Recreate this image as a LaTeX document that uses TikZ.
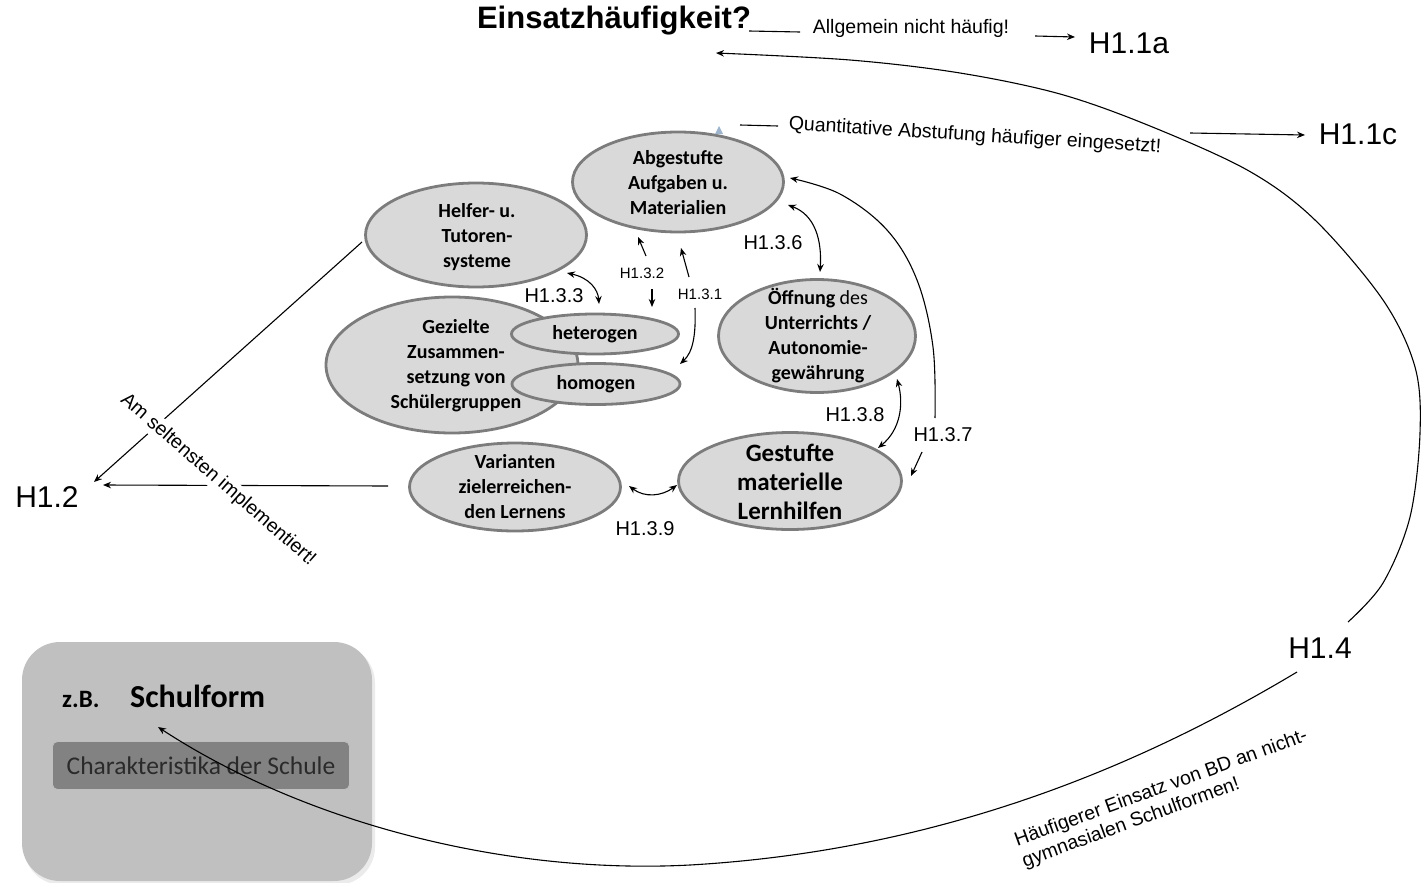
\documentclass[tikz,border=0pt]{standalone}
\usepackage{fontspec}
\setmainfont{Carlito}
\newfontfamily\arialfont{Liberation Sans}
\usetikzlibrary{shapes.geometric,arrows.meta}
\definecolor{bubfill}{HTML}{D9D9D9}
\definecolor{bubline}{HTML}{7C7C7C}
\definecolor{boxfill}{HTML}{C0C0C0}
\definecolor{innerfill}{HTML}{828282}
\definecolor{innertext}{HTML}{2A2A2A}
\definecolor{tipblue}{HTML}{9DB4CC}

\begin{document}
\begin{tikzpicture}[x=1pt,y=-1pt,
  bub/.style={ellipse, draw=bubline, line width=2.8pt, fill=bubfill, inner sep=0pt},
  bubtext/.style={align=center, inner sep=0pt, font=\bfseries\fontsize{20}{25}\selectfont},
  conn/.style={line width=1.1pt},
  tip/.style={conn, -{Stealth[length=8pt,width=6.5pt]}},
  twotip/.style={conn, {Stealth[length=8pt,width=6.5pt]}-{Stealth[length=8pt,width=6.5pt]}},
  hlab/.style={font=\arialfont\fontsize{20}{24}\selectfont, inner sep=1pt},
  hsmall/.style={font=\arialfont\fontsize{15}{18}\selectfont, inner sep=1pt},
  hbig/.style={font=\arialfont\fontsize{30}{36}\selectfont, inner sep=1pt},
  remark/.style={font=\arialfont\fontsize{19.5}{22}\selectfont, inner sep=1pt},
]
\useasboundingbox (0,0) rectangle (1421,883);

% ---------- school-type box ----------
\fill[black, opacity=0.08, rounded corners=38pt] (24,645) rectangle (375,885);
\node[fill=boxfill, rounded corners=38pt, minimum width=350pt, minimum height=239pt, inner sep=0pt] (box) at (197,761.5) {};
\node[fill=innerfill, draw=gray!50, line width=0.8pt, rounded corners=5pt, minimum width=297pt, minimum height=48pt, inner sep=0pt, font=\fontsize{25.5}{29}\selectfont, text=innertext] (char) at (201,765.5) {Charakteristika der Schule};
\node[anchor=base west, inner sep=0pt, font=\bfseries\fontsize{25}{29}\selectfont] (zb) at (62,707) {z.B.};
\node[anchor=base west, inner sep=0pt, font=\bfseries\fontsize{32}{38}\selectfont] (schulform) at (130,707) {Schulform};

% ---------- ellipses ----------
\node[bub, minimum width=211pt, minimum height=100pt] (abg) at (678,182) {};
\node[bubtext] (abgT) at (678,183) {Abgestufte\\Aufgaben u.\\Materialien};

\node[bub, minimum width=221pt, minimum height=104pt] (helfer) at (476,235) {};
\node[bubtext] (helferT) at (477,237) {Helfer- u.\\Tutoren-\\systeme};

\node[bub, minimum width=252pt, minimum height=136pt] (gez) at (452,365) {};
\node[bubtext] (gezT) at (456,366) {Gezielte\\Zusammen-\\setzung von\\Schülergruppen};

\node[bub, minimum width=167pt, minimum height=40pt] (het) at (595,334) {};
\node[bubtext] (hetT) at (595,334) {heterogen};
\node[bub, minimum width=168pt, minimum height=41pt] (hom) at (596,384) {};
\node[bubtext] (homT) at (596,384) {homogen};

\node[bub, minimum width=197pt, minimum height=113pt] (oeff) at (817,336) {};
\node[bubtext] (oeffT) at (818,336) {Öffnung {\mdseries des}\\Unterrichts /\\Autonomie-\\gewährung};

\node[bub, minimum width=223pt, minimum height=97pt] (gest) at (790,481) {};
\node[bubtext, font=\bfseries\fontsize{25}{29}\selectfont] (gestT) at (790,482) {Gestufte\\materielle\\Lernhilfen};

\node[bub, minimum width=211pt, minimum height=88pt] (var) at (515,487) {};
\node[bubtext] (varT) at (515,487) {Varianten\\zielerreichen-\\den Lernens};

% ---------- top labels ----------
\node[font=\arialfont\bfseries\fontsize{31}{36}\selectfont, inner sep=1pt] (einsatz) at (614,21) {Einsatzhäufigkeit?};
\node[remark] (allg) at (911,28) {Allgemein nicht häufig!};
\node[hbig] (h11a) at (1129,43) {H1.1a};
\draw[conn] (749,31) -- (800,32);
\draw[tip] (1035,36) -- (1075,37);

\node[remark, rotate=-3.5] (quant) at (975,136) {Quantitative Abstufung häufiger eingesetzt!};
\node[hbig] (h11c) at (1358,134) {H1.1c};
\draw[conn] (740,125) -- (778,126);
\fill[tipblue] (715,134) -- (719,126) -- (723,134) -- cycle;
\draw[tip] (1190,133) -- (1305,135);

% ---------- H1.2 ----------
\node[hbig] (h12) at (47,497) {H1.2};
\draw[tip] (362,242) -- (94,482);
\draw[tip] (388,486) -- (103,485);
\node[remark, rotate=-41, fill=white, inner sep=2pt] (selten) at (218,480) {Am seltensten implementiert!};

% ---------- H1.4 ----------
\node[hbig] (h14) at (1320,648) {H1.4};
\draw[tip] plot[smooth, tension=0.55] coordinates {(1348,622) (1383,583) (1410,517) (1420,433) (1415,367) (1383,300) (1315,220) (1249,171) (1150,126) (1060,94) (960,73) (850,60) (716,53)};
\draw[tip] (1297,672) .. controls (1150,760) and (950,850) .. (690,865)
                      .. controls (500,875) and (300,820) .. (158,727);
\node[remark, rotate=20, align=left] (haeuf) at (1165,799) {Häufigerer Einsatz von BD an nicht-\\gymnasialen Schulformen!};

% ---------- relations inside the cluster ----------
\node[hlab] (h136) at (773,243) {H1.3.6};
\draw[twotip] (788,205) .. controls (815,215) and (822,240) .. (820,272);

\node[hlab] (h137) at (943,435) {H1.3.7};
\draw[tip] plot[smooth, tension=0.6] coordinates {(935,418) (933,347) (917,280) (887,230) (840,194) (790,178)};
\draw[tip] (922,452) -- (911,476);

\node[hlab] (h138) at (855,415) {H1.3.8};
\draw[twotip] (897,379) .. controls (904,405) and (900,430) .. (878,448);

\node[hlab] (h139) at (645,529) {H1.3.9};
\draw[twotip] (629,486) .. controls (645,498) and (662,496) .. (677,485);

\node[hlab] (h133) at (554,296) {H1.3.3};
\draw[twotip] (567,273) .. controls (590,278) and (598,290) .. (599,304);

\node[hsmall] (h132) at (642,273) {H1.3.2};
\draw[tip] (646,256) -- (638,237);
\draw[tip] (652,289) -- (652,307);

\node[hsmall] (h131) at (700,294) {H1.3.1};
\draw[tip] (689,277) -- (681,248);
\draw[tip] (695,308) .. controls (696,335) and (693,352) .. (680,364);

\end{tikzpicture}
\end{document}
